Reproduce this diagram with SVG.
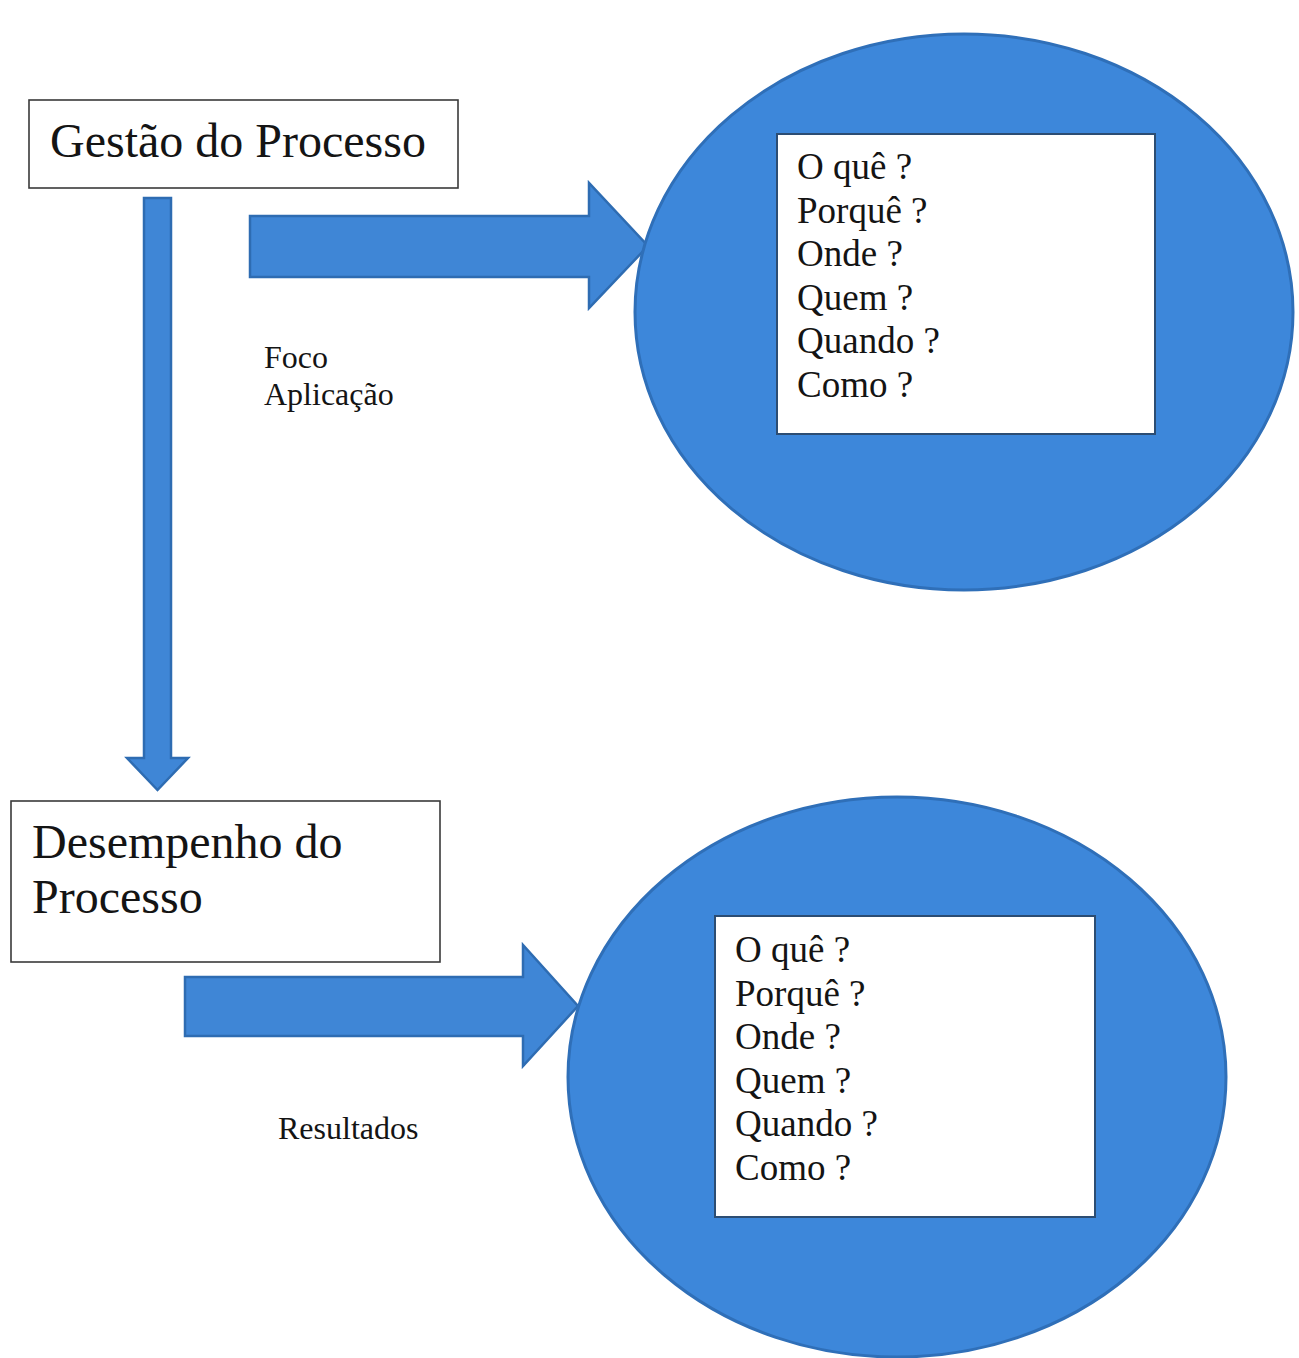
<svg xmlns="http://www.w3.org/2000/svg" width="1299" height="1358" viewBox="0 0 1299 1358">
  <style>
    .box { fill: #ffffff; stroke: #3a3a3a; stroke-width: 1.6; }
    .circle { fill: #3d87da; stroke: #2f6fb8; stroke-width: 3; }
    .inner { fill: #ffffff; stroke: #2c4d73; stroke-width: 2; }
    .arrow { fill: #3f86d6; stroke: #2e6cb2; stroke-width: 2.5; stroke-linejoin: miter; }
    .title { font-family: "Liberation Serif", "Times New Roman", serif; font-size: 48px; fill: #141414; }
    .q { font-family: "Liberation Serif", "Times New Roman", serif; font-size: 37px; fill: #141414; }
    .lbl { font-family: "Liberation Serif", "Times New Roman", serif; font-size: 32px; fill: #141414; }
  </style>
  <rect width="1299" height="1358" fill="#ffffff"/>

  <g id="connectors">
    <path class="arrow" d="M144,198 L171,198 L171,758 L188,758 L157.5,790 L127,758 L144,758 Z"/>
    <path class="arrow" d="M250,216 L589,216 L589,183 L648,246 L589,308 L589,277 L250,277 Z"/>
    <path class="arrow" d="M185,977 L523,977 L523,945 L578,1006 L523,1066 L523,1036 L185,1036 Z"/>
    <g id="label-foco">
      <text class="lbl" x="264" y="368">Foco</text>
      <text class="lbl" x="264" y="405">Aplicação</text>
    </g>
    <g id="label-resultados">
      <text class="lbl" x="278" y="1139">Resultados</text>
    </g>
  </g>

  <g id="gestao">
    <rect class="box" x="29" y="100" width="429" height="88"/>
    <text class="title" x="50" y="157">Gestão do Processo</text>
  </g>

  <g id="desempenho">
    <rect class="box" x="11" y="801" width="429" height="161"/>
    <text class="title" x="32" y="858">Desempenho do</text>
    <text class="title" x="32" y="913">Processo</text>
  </g>

  <g id="circle-top">
    <ellipse class="circle" cx="964" cy="312" rx="329" ry="278"/>
    <rect class="inner" x="777" y="134" width="378" height="300"/>
    <text class="q" x="797" y="179">O quê ?</text>
    <text class="q" x="797" y="222.5">Porquê ?</text>
    <text class="q" x="797" y="266">Onde ?</text>
    <text class="q" x="797" y="309.5">Quem ?</text>
    <text class="q" x="797" y="353">Quando ?</text>
    <text class="q" x="797" y="396.5">Como ?</text>
  </g>

  <g id="circle-bottom">
    <ellipse class="circle" cx="897" cy="1077" rx="329" ry="280"/>
    <rect class="inner" x="715" y="916" width="380" height="301"/>
    <text class="q" x="735" y="962">O quê ?</text>
    <text class="q" x="735" y="1005.5">Porquê ?</text>
    <text class="q" x="735" y="1049">Onde ?</text>
    <text class="q" x="735" y="1092.5">Quem ?</text>
    <text class="q" x="735" y="1136">Quando ?</text>
    <text class="q" x="735" y="1179.5">Como ?</text>
  </g>
</svg>
